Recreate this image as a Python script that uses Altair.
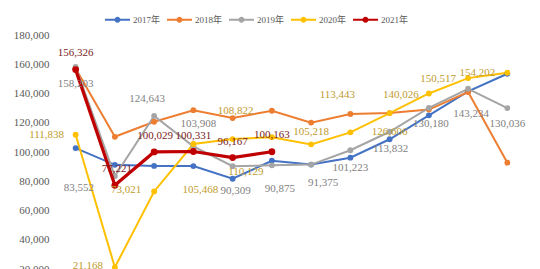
import altair as alt
import pandas as pd

# Monthly figures per year
months = list(range(1, 13))
years = ["2017年", "2018年", "2019年", "2020年", "2021年"]
v2017 = [102700, 91200, 90500, 90400, 81700, 94000, 91400, 96100, 108700, 125100, 141500, 153500]
v2018 = [157100, 110400, 120700, 128600, 123200, 128200, 120100, 126000, 126600, 129000, 141000, 92700]
v2019 = [158203, 83552, 124643, 103908, 90309, 90875, 91375, 101223, 113832, 130180, 143234, 130036]
v2020 = [111838, 21168, 73021, 105468, 108822, 110129, 105218, 113443, 126606, 140026, 150517, 154202]
v2021 = [156326, 77221, 100029, 100331, 96167, 100163]
y_ticks = list(range(20000, 180001, 20000))

series = dict(zip(years, [v2017, v2018, v2019, v2020, v2021]))
rows = []
for yr, vals in series.items():
    for m, v in zip(months, vals):
        rows.append({"year": yr, "month": m, "value": v})
df = pd.DataFrame(rows)

colors = ["#4472C4", "#ED7D31", "#A5A5A5", "#FFC000", "#C00000"]
label_colors = {"2019年": "#7F7F7F", "2020年": "#BF9B2E", "2021年": "#7B1C1C"}

# Nudges (dx, dy) for each value label, relative to its point
label_nudge = {
    "2019年": [(0, 17), (-36, 12), (-7, -17), (5, -22), (3, 25), (8, 24),
               (12, 18), (0, 18), (1, 17), (2, 16), (3, 25), (0, 16)],
    "2020年": [(-29, 0), (-27, -1), (-28, -1), (7, 46), (3, -28), (-26, 35),
               (0, -12), (-13, -37), (0, 19), (-28, 2), (-30, 1), (-30, 0)],
    "2021年": [(0, -17), (2, -16), (1, -16), (0, -16), (0, -16), (0, -17)],
}

serif = "Liberation Serif, Noto Sans CJK SC"

# legend symbol: short bar with a dot in the middle
legend_path = ("M-1,-0.08L1,-0.08L1,0.08L-1,0.08Z "
               "M-0.24,0A0.24,0.24 0 1,1 0.24,0A0.24,0.24 0 1,1 -0.24,0Z")
legend = alt.Legend(
    orient="none", legendX=49, legendY=-28, direction="horizontal",
    title=None, symbolType=legend_path, symbolSize=625, symbolStrokeWidth=0,
    labelFont=serif, labelFontSize=9, labelColor="#595959", labelOffset=3,
    columnPadding=6, padding=0,
)

color = alt.Color("year:N", scale=alt.Scale(domain=years, range=colors), legend=legend)
x = alt.X("month:O", scale=alt.Scale(type="point", padding=0.5), axis=None)
y = alt.Y(
    "value:Q",
    scale=alt.Scale(domain=[20000, 180000], nice=False, zero=False),
    axis=alt.Axis(values=y_ticks, format=",d", ticks=False, domain=False, grid=False,
                  labelFont=serif, labelFontSize=11, labelColor="#595959",
                  labelPadding=7, title=None),
)

base = alt.Chart(df)
older = base.transform_filter(alt.datum.year != "2021年")
latest = base.transform_filter(alt.datum.year == "2021年")

layers = [
    older.mark_line(strokeWidth=2, clip=False).encode(x=x, y=y, color=color, order=alt.Order("month:Q")),
    older.mark_point(filled=True, opacity=1, size=34, clip=False).encode(x=x, y=y, color=color),
    latest.mark_line(strokeWidth=3.2, clip=False).encode(x=x, y=y, color=color, order=alt.Order("month:Q")),
    latest.mark_point(filled=True, opacity=1, size=46, clip=False).encode(x=x, y=y, color=color),
]

for yr, nudges in label_nudge.items():
    for m, (dx, dy) in zip(months, nudges):
        layers.append(
            base.transform_filter(
                (alt.datum.year == yr) & (alt.datum.month == m)
            ).mark_text(
                dx=dx, dy=dy, align="center", baseline="middle",
                font=serif, fontSize=11, color=label_colors[yr],
            ).encode(x=x, y=y, text=alt.Text("value:Q", format=",d"))
        )

chart = alt.layer(*layers).properties(
    width=471, height=234,
    autosize=alt.AutoSizeParams(type="none"),
    padding={"left": 56, "top": 35, "right": 13, "bottom": 0},
    background="white",
).configure_view(stroke=None)

chart.save("out.html", embed_options={"renderer": "svg", "actions": False})
